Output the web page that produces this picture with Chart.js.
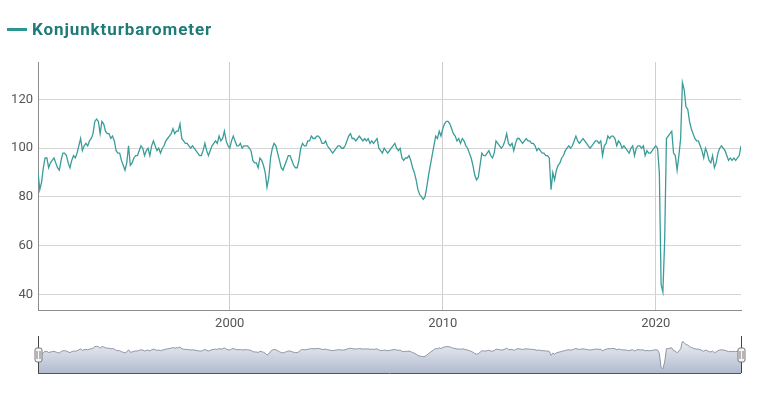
<!DOCTYPE html>
<html><head><meta charset="utf-8">
<script src="https://cdn.jsdelivr.net/npm/chart.js@4"></script>
<style>
html,body{margin:0;padding:0;background:#fff;width:760px;height:393px;overflow:hidden;}
#title{position:absolute;left:7px;top:19px;font:bold 17px Roboto, sans-serif;letter-spacing:0.9px;color:#1f7b79;display:flex;align-items:center;z-index:2;}
#title .dash{display:inline-block;width:20px;height:3px;background:#2c9592;margin-right:5px;}
#main{position:absolute;left:0;top:0;}
#nav{position:absolute;left:0;top:330px;}
</style></head><body>
<div id="title"><span class="dash"></span>Konjunkturbarometer</div>
<canvas id="main" width="760" height="340"></canvas>
<canvas id="nav" width="760" height="50"></canvas>
<script>
// Monthly KOF Konjunkturbarometer, Jan 1991 – Jan 2024
const startYear = 1991;
const seriesName = 'Konjunkturbarometer';
const barometer = [
  90, 83, 86, 92, 96, 96, 92, 94, 95, 96, 94, 92,        // 1991
  91, 95, 98, 98, 97, 94, 92, 95, 97, 96, 98, 101,       // 1992
  104, 99, 101, 102, 101, 103, 104, 106, 111, 112, 111, 106, // 1993
  111, 110, 107, 106, 106, 104, 105, 103, 99, 98, 98, 95,  // 1994
  93, 91, 94, 101, 93, 94, 96, 97, 97, 99, 101, 100,     // 1995
  97, 99, 100, 97, 101, 103, 101, 99, 100, 98, 100, 101, // 1996
  103, 104, 105, 106, 108, 106, 107, 107, 110, 104, 103, 102, // 1997
  102, 101, 100, 101, 100, 99, 98, 97, 97, 99, 102, 99,  // 1998
  97, 99, 101, 102, 103, 102, 105, 103, 104, 107, 103, 101, // 1999
  100, 103, 105, 103, 101, 101, 102, 100, 101, 101, 101, 100, // 2000
  99, 95, 94, 94, 92, 96, 95, 93, 90, 84, 88, 96,        // 2001
  100, 102, 101, 98, 95, 92, 91, 93, 95, 97, 97, 95,     // 2002
  93, 92, 92, 95, 100, 102, 101, 101, 103, 103, 105, 104, // 2003
  104, 105, 105, 104, 102, 102, 103, 101, 100, 99, 98, 99, // 2004
  100, 101, 101, 100, 100, 101, 103, 105, 106, 104, 104, 103, // 2005
  104, 105, 104, 103, 104, 103, 104, 102, 103, 102, 103, 104, // 2006
  100, 99, 98, 100, 99, 98, 99, 100, 101, 102, 100, 99,  // 2007
  100, 96, 95, 96, 96, 97, 95, 92, 90, 87, 83, 81,       // 2008
  80, 79, 80, 84, 89, 93, 97, 101, 105, 104, 107, 105,   // 2009
  108, 110, 111, 111, 110, 108, 106, 105, 103, 104, 102, 104, // 2010
  103, 101, 100, 98, 96, 93, 89, 87, 88, 93, 98, 97,     // 2011
  97, 98, 99, 97, 96, 98, 103, 102, 101, 100, 101, 103,  // 2012
  106, 102, 101, 102, 99, 102, 104, 104, 103, 102, 103, 104, // 2013
  103, 103, 102, 102, 101, 99, 100, 99, 98, 98, 97, 97,  // 2014
  96, 83, 90, 87, 91, 93, 94, 96, 97, 99, 100, 101,      // 2015
  100, 101, 103, 105, 103, 102, 103, 104, 103, 102, 101, 100, // 2016
  101, 102, 103, 103, 102, 103, 97, 101, 102, 105, 104, 105, // 2017
  105, 104, 101, 103, 102, 100, 101, 100, 99, 98, 100, 101, // 2018
  97, 100, 101, 101, 100, 101, 97, 99, 98, 98, 99, 100,  // 2019
  101, 100, 90, 44, 41, 62, 104, 105, 106, 107, 98, 97,  // 2020
  91, 97, 104, 127, 124, 117, 116, 111, 108, 106, 104, 103, // 2021
  103, 101, 99, 96, 100, 98, 95, 94, 97, 92, 94, 98,     // 2022
  100, 101, 100, 99, 97, 95, 96, 95, 96, 95, 96, 97,     // 2023
  101                                                    // 2024
];
const xTicks = [2000, 2010, 2020];
const yTicks = [40, 60, 80, 100, 120];

const points = barometer.map((v, i) => ({ x: startYear + i / 12, y: v }));
const xMin = startYear, xMax = startYear + (barometer.length - 1) / 12;

const tickFont = { family: 'Roboto, sans-serif', size: 13 };

new Chart(document.getElementById('main'), {
  type: 'line',
  data: { datasets: [{
    label: seriesName, data: points,
    borderColor: '#3a9d99', borderWidth: 1.3, pointRadius: 0, tension: 0, fill: false
  }]},
  options: {
    responsive: false, animation: false,
    layout: { padding: { top: 62, right: 19, left: 0, bottom: 0 } },
    plugins: { legend: { display: false }, tooltip: { enabled: false } },
    scales: {
      x: {
        type: 'linear', min: xMin, max: xMax,
        afterBuildTicks: s => { s.ticks = xTicks.map(v => ({ value: v })); },
        afterFit: s => { s.height = 30; },
        ticks: { callback: v => String(v), color: '#555', font: tickFont, padding: 6, maxRotation: 0 },
        grid: { color: '#cfcfcf', drawTicks: false },
        border: { color: '#8c8c8c' }
      },
      y: {
        min: 33.6, max: 135.4,
        afterBuildTicks: s => { s.ticks = yTicks.map(v => ({ value: v })); },
        afterFit: s => { s.width = 38; },
        ticks: { color: '#555', font: tickFont, padding: 5 },
        grid: { color: '#d6d6d6', drawTicks: false },
        border: { color: '#8c8c8c' }
      }
    }
  }
});

const navDecor = {
  id: 'navDecor',
  afterDraw(chart) {
    const c = chart.ctx, a = chart.chartArea;
    c.save();
    c.strokeStyle = '#555'; c.lineWidth = 1;
    c.beginPath();
    c.moveTo(a.left, a.bottom + 0.5); c.lineTo(a.right, a.bottom + 0.5);
    c.stroke();
    [a.left, a.right].forEach(x => {
      const px = Math.round(x) + 0.5;
      c.strokeStyle = '#444';
      c.beginPath(); c.moveTo(px, a.top - 4); c.lineTo(px, a.bottom); c.stroke();
      const w = 7, h = 14, top = a.top + 8;
      c.fillStyle = '#f4f4f4'; c.strokeStyle = '#777';
      c.beginPath();
      if (c.roundRect) c.roundRect(px - w / 2, top, w, h, 2); else c.rect(px - w / 2, top, w, h);
      c.fill(); c.stroke();
      c.strokeStyle = '#777';
      c.beginPath();
      c.moveTo(px - 1.5, top + 3); c.lineTo(px - 1.5, top + h - 3);
      c.moveTo(px + 1.5, top + 3); c.lineTo(px + 1.5, top + h - 3);
      c.stroke();
    });
    c.restore();
  }
};

new Chart(document.getElementById('nav'), {
  type: 'line',
  data: { datasets: [{
    data: points,
    borderColor: '#8e95a3', borderWidth: 1, pointRadius: 0, tension: 0,
    fill: 'start',
    backgroundColor: ctx => {
      const ch = ctx.chart, a = ch.chartArea;
      if (!a) return 'rgba(200,207,220,1)';
      const g = ch.ctx.createLinearGradient(0, a.top, 0, a.bottom);
      g.addColorStop(0, 'rgba(236,238,243,1)');
      g.addColorStop(1, 'rgba(178,188,207,1)');
      return g;
    }
  }]},
  options: {
    responsive: false, animation: false,
    layout: { padding: { top: 10, right: 19, left: 38, bottom: 7 } },
    plugins: { legend: { display: false }, tooltip: { enabled: false } },
    scales: {
      x: { type: 'linear', min: xMin, max: xMax, display: false },
      y: { min: 27, max: 132, display: false }
    }
  },
  plugins: [navDecor]
});
</script>
</body></html>
